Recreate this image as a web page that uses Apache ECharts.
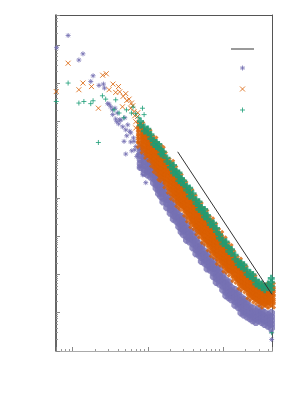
<!DOCTYPE html>
<html><head><meta charset="utf-8">
<script src="https://cdn.jsdelivr.net/npm/echarts@6/dist/echarts.min.js"></script>
<style>html,body{margin:0;padding:0;background:#fff}#c{width:300px;height:400px}</style>
</head><body><div id="c"></div>
<script>
// axis ranges (log axes)
const xRange = [0.6, 450];
const yRange = [1e-9, 0.6];
const minorMantissas = [2, 3, 4, 5, 6, 7, 8, 9];
const seriesNames = ['guide', 'set A', 'set B', 'set C'];

// power-law guide line
const fitLine = [[25, 1.6e-4], [450, 3e-8]];

// sparse points
const purpleSparse = [[0.87,0.175],[0.61,0.084],[1.37,0.058],[1.21,0.04],[1.87,0.0155],[1.74,0.011],[2.24,8.7e-3],[2.57,9.4e-3],[2.65,7.4e-3],[3.05,2.8e-3],[3.38,2e-3],[3.66,2.2e-3],[3.94,1.65e-3],[3.74,1.15e-3],[4.23,1.1e-3],[5.09,6e-4],[5.75,5.5e-4],[4.83,3e-4],[6.45,3.7e-4],[6.92,2.2e-4],[5.09,1.4e-4],[8.07,2e-4],[3.21,2.4e-3],[4.37,1.07e-3],[5.93,5e-4],[5.41,8.1e-4],[6.56,3e-4],[7.66,2.7e-4],[7.36,1.34e-4],[2.93,2.9e-3],[3.41,1.5e-3],[4.1,8.6e-4],[4.64,7.2e-4],[5.25,4.2e-4],[5.93,2.9e-4],[6.71,1.8e-4],[7.13,1.2e-4],[6.12,1.7e-4],[7.82,6.2e-5],[8.58,4e-5],[9.4,2.5e-5],[4.94,1.24e-3],[3.86,9.8e-4],[440,3.2e-9],[445,2e-9]];
const orangeSparse = [[0.87,0.033],[0.605,6e-3],[1.37,0.01],[1.21,6.7e-3],[1.78,8.1e-3],[2.51,0.016],[2.8,0.0175],[3.44,9.4e-3],[4.07,8.1e-3],[3.05,6.7e-3],[3.74,5.7e-3],[2.2,2.2e-3],[5.09,5.3e-3],[5.63,3.8e-3],[4.6,2.4e-3],[5.93,2.2e-3],[6.56,1.8e-3],[7.29,1.34e-3],[6.92,6.7e-4],[6.06,3e-3],[4.69,4.5e-3],[4.23,5.9e-3],[5.25,3.5e-3],[6.31,2.55e-3],[6.71,1.4e-3],[7.36,1.68e-3],[6.92,9.8e-4]];
const greenSparse = [[0.87,0.01],[0.605,3.3e-3],[1.21,3e-3],[1.41,3.3e-3],[1.74,2.9e-3],[1.87,3.45e-3],[2.49,4.65e-3],[2.75,3.8e-3],[2.2,2.8e-4],[3.74,3.65e-3],[3.55,2e-3],[4.14,1.65e-3],[8.5,2.2e-3],[8.93,1.5e-3],[6.92,1.58e-3],[5.2,2e-3],[6.06,1.65e-3],[6.37,2.36e-3],[4.79,1.24e-3],[7.59,1.24e-3],[445,3e-9]];

// dense bands: [x, [y values read at that x]]
const purpleBand = [
[8,[2e-4,1.6e-4,1.3e-4,1e-4,7.9e-5,6.3e-5]],
[9,[1.4e-4,1.1e-4,8.9e-5,7.1e-5,5.6e-5,4.5e-5]],
[10,[1e-4,7.9e-5,6.3e-5,5e-5,4e-5]],
[11,[8.9e-5,7.1e-5,5.6e-5,4.5e-5,3.5e-5]],
[12,[6.3e-5,5e-5,4e-5,3.2e-5,2.5e-5]],
[13,[4.5e-5,3.5e-5,2.8e-5,2.2e-5,1.8e-5]],
[14,[3.2e-5,2.5e-5,2e-5,1.6e-5,1.3e-5]],
[15,[2.8e-5,2.2e-5,1.8e-5,1.4e-5,1.1e-5]],
[16,[2e-5,1.6e-5,1.3e-5,1e-5,7.9e-6]],
[18,[1.4e-5,1.1e-5,8.9e-6,7.1e-6,5.6e-6]],
[20,[1e-5,7.9e-6,6.3e-6,5e-6,4e-6]],
[22,[7.1e-6,5.6e-6,4.5e-6,3.5e-6,2.8e-6]],
[24,[5e-6,4e-6,3.2e-6,2.5e-6]],
[26,[3.5e-6,2.8e-6,2.2e-6,1.8e-6]],
[28,[3.2e-6,2.5e-6,2e-6,1.6e-6,1.3e-6]],
[30,[2.8e-6,2.2e-6,1.8e-6,1.4e-6,1.1e-6]],
[33,[2e-6,1.6e-6,1.3e-6,1e-6,7.9e-7]],
[36,[1.4e-6,1.1e-6,8.9e-7,7.1e-7]],
[40,[1.3e-6,1e-6,7.9e-7,6.3e-7,5e-7]],
[44,[8.9e-7,7.1e-7,5.6e-7,4.5e-7,3.5e-7]],
[48,[6.3e-7,5e-7,4e-7,3.2e-7]],
[52,[5.6e-7,4.5e-7,3.5e-7,2.8e-7,2.2e-7]],
[57,[4e-7,3.2e-7,2.5e-7,2e-7]],
[62,[3.5e-7,2.8e-7,2.2e-7,1.8e-7,1.4e-7]],
[68,[2.5e-7,2e-7,1.6e-7,1.3e-7]],
[75,[2.2e-7,1.8e-7,1.4e-7,1.1e-7,8.9e-8]],
[82,[1.6e-7,1.3e-7,1e-7,7.9e-8,6.3e-8]],
[90,[1.4e-7,1.1e-7,8.9e-8,7.1e-8,5.6e-8]],
[100,[1e-7,7.9e-8,6.3e-8,5e-8,4e-8]],
[110,[7.1e-8,5.6e-8,4.5e-8,3.5e-8,2.8e-8]],
[120,[6.3e-8,5e-8,4e-8,3.2e-8,2.5e-8]],
[130,[4.5e-8,3.5e-8,2.8e-8,2.2e-8]],
[145,[4e-8,3.2e-8,2.5e-8,2e-8,1.6e-8]],
[160,[3.5e-8,2.8e-8,2.2e-8,1.8e-8,1.4e-8]],
[175,[2.5e-8,2e-8,1.6e-8,1.3e-8,1e-8]],
[190,[2.2e-8,1.8e-8,1.4e-8,1.1e-8,8.9e-9]],
[210,[2e-8,1.6e-8,1.3e-8,1e-8,7.9e-9]],
[230,[1.4e-8,1.1e-8,8.9e-9,7.1e-9]],
[250,[1.3e-8,1e-8,7.9e-9,6.3e-9]],
[275,[1.1e-8,8.9e-9,7.1e-9,5.6e-9]],
[300,[1.3e-8,1e-8,7.9e-9,6.3e-9]],
[330,[1.1e-8,8.9e-9,7.1e-9,5.6e-9]],
[360,[1e-8,7.9e-9,6.3e-9,5e-9]],
[400,[8.9e-9,7.1e-9,5.6e-9,4.5e-9]],
[440,[1e-8,7.9e-9,6.3e-9,5e-9,4e-9]]
];
const orangeBand = [
[8,[7.9e-4,6.3e-4,5e-4,4e-4,3.2e-4,2.5e-4]],
[9,[5.6e-4,4.5e-4,3.5e-4,2.8e-4,2.2e-4,1.8e-4]],
[10,[5e-4,4e-4,3.2e-4,2.5e-4,2e-4,1.6e-4,1.3e-4]],
[11,[3.5e-4,2.8e-4,2.2e-4,1.8e-4,1.4e-4,1.1e-4]],
[12,[3.2e-4,2.5e-4,2e-4,1.6e-4,1.3e-4,1e-4,7.9e-5]],
[13,[2.2e-4,1.8e-4,1.4e-4,1.1e-4,8.9e-5,7.1e-5,5.6e-5]],
[14,[2e-4,1.6e-4,1.3e-4,1e-4,7.9e-5,6.3e-5,5e-5]],
[15,[1.8e-4,1.4e-4,1.1e-4,8.9e-5,7.1e-5,5.6e-5,4.5e-5,3.5e-5]],
[16,[1.3e-4,1e-4,7.9e-5,6.3e-5,5e-5,4e-5,3.2e-5]],
[18,[8.9e-5,7.1e-5,5.6e-5,4.5e-5,3.5e-5,2.8e-5,2.2e-5]],
[20,[7.9e-5,6.3e-5,5e-5,4e-5,3.2e-5,2.5e-5,2e-5,1.6e-5]],
[22,[5.6e-5,4.5e-5,3.5e-5,2.8e-5,2.2e-5,1.8e-5,1.4e-5,1.1e-5]],
[24,[4e-5,3.2e-5,2.5e-5,2e-5,1.6e-5,1.3e-5,1e-5]],
[26,[3.5e-5,2.8e-5,2.2e-5,1.8e-5,1.4e-5,1.1e-5,8.9e-6,7.1e-6]],
[28,[2.5e-5,2e-5,1.6e-5,1.3e-5,1e-5,7.9e-6,6.3e-6]],
[30,[2.2e-5,1.8e-5,1.4e-5,1.1e-5,8.9e-6,7.1e-6,5.6e-6]],
[33,[1.6e-5,1.3e-5,1e-5,7.9e-6,6.3e-6,5e-6,4e-6]],
[36,[1.4e-5,1.1e-5,8.9e-6,7.1e-6,5.6e-6,4.5e-6,3.5e-6,2.8e-6]],
[40,[1e-5,7.9e-6,6.3e-6,5e-6,4e-6,3.2e-6,2.5e-6,2e-6]],
[44,[7.1e-6,5.6e-6,4.5e-6,3.5e-6,2.8e-6,2.2e-6,1.8e-6]],
[48,[6.3e-6,5e-6,4e-6,3.2e-6,2.5e-6,2e-6,1.6e-6,1.3e-6]],
[52,[4.5e-6,3.5e-6,2.8e-6,2.2e-6,1.8e-6,1.4e-6,1.1e-6]],
[57,[4e-6,3.2e-6,2.5e-6,2e-6,1.6e-6,1.3e-6,1e-6,7.9e-7]],
[62,[2.8e-6,2.2e-6,1.8e-6,1.4e-6,1.1e-6,8.9e-7,7.1e-7]],
[68,[2.5e-6,2e-6,1.6e-6,1.3e-6,1e-6,7.9e-7,6.3e-7,5e-7]],
[75,[1.8e-6,1.4e-6,1.1e-6,8.9e-7,7.1e-7,5.6e-7,4.5e-7,3.5e-7]],
[82,[1.3e-6,1e-6,7.9e-7,6.3e-7,5e-7,4e-7,3.2e-7]],
[90,[1.1e-6,8.9e-7,7.1e-7,5.6e-7,4.5e-7,3.5e-7,2.8e-7,2.2e-7]],
[100,[7.9e-7,6.3e-7,5e-7,4e-7,3.2e-7,2.5e-7,2e-7]],
[110,[5.6e-7,4.5e-7,3.5e-7,2.8e-7,2.2e-7,1.8e-7,1.4e-7]],
[120,[5e-7,4e-7,3.2e-7,2.5e-7,2e-7,1.6e-7,1.3e-7]],
[130,[3.5e-7,2.8e-7,2.2e-7,1.8e-7,1.4e-7,1.1e-7]],
[145,[2.5e-7,2e-7,1.6e-7,1.3e-7,1e-7,7.9e-8]],
[160,[2.2e-7,1.8e-7,1.4e-7,1.1e-7,8.9e-8,7.1e-8]],
[175,[1.6e-7,1.3e-7,1e-7,7.9e-8,6.3e-8,5e-8]],
[190,[1.4e-7,1.1e-7,8.9e-8,7.1e-8,5.6e-8,4.5e-8]],
[210,[1e-7,7.9e-8,6.3e-8,5e-8,4e-8]],
[230,[8.9e-8,7.1e-8,5.6e-8,4.5e-8,3.5e-8,2.8e-8]],
[250,[7.9e-8,6.3e-8,5e-8,4e-8,3.2e-8,2.5e-8]],
[275,[5.6e-8,4.5e-8,3.5e-8,2.8e-8,2.2e-8]],
[300,[5e-8,4e-8,3.2e-8,2.5e-8,2e-8]],
[330,[4.5e-8,3.5e-8,2.8e-8,2.2e-8,1.8e-8]],
[360,[5e-8,4e-8,3.2e-8,2.5e-8,2e-8,1.6e-8]],
[400,[4.5e-8,3.5e-8,2.8e-8,2.2e-8,1.8e-8]],
[440,[5e-8,4e-8,3.2e-8,2.5e-8,2e-8,1.6e-8]]
];
const greenBand = [
[8,[1e-3,7.9e-4]],
[9,[7.1e-4,5.6e-4]],
[10,[6.3e-4,5e-4]],
[11,[4.5e-4,3.5e-4]],
[12,[3.2e-4,2.5e-4]],
[13,[2.8e-4,2.2e-4]],
[14,[2.5e-4,2e-4]],
[15,[1.8e-4,1.4e-4]],
[16,[1.6e-4,1.3e-4]],
[18,[1.1e-4,8.9e-5]],
[20,[7.9e-5,6.3e-5]],
[22,[7.1e-5,5.6e-5,4.5e-5]],
[24,[5e-5,4e-5]],
[26,[4.5e-5,3.5e-5,2.8e-5]],
[28,[3.2e-5,2.5e-5]],
[30,[2.8e-5,2.2e-5]],
[33,[2e-5,1.6e-5]],
[36,[1.8e-5,1.4e-5,1.1e-5]],
[40,[1.3e-5,1e-5]],
[44,[8.9e-6,7.1e-6]],
[48,[7.9e-6,6.3e-6,5e-6]],
[52,[5.6e-6,4.5e-6]],
[57,[5e-6,4e-6,3.2e-6]],
[62,[3.5e-6,2.8e-6]],
[68,[2.5e-6,2e-6]],
[75,[2.2e-6,1.8e-6]],
[82,[1.6e-6,1.3e-6]],
[90,[1.1e-6,8.9e-7]],
[100,[7.9e-7,6.3e-7]],
[110,[7.1e-7,5.6e-7]],
[120,[5e-7,4e-7]],
[130,[4.5e-7,3.5e-7]],
[145,[3.2e-7,2.5e-7]],
[160,[2.2e-7,1.8e-7]],
[175,[2e-7,1.6e-7]],
[190,[1.8e-7,1.4e-7]],
[210,[1.3e-7,1e-7]],
[230,[1.1e-7,8.9e-8]],
[250,[1e-7,7.9e-8]],
[275,[7.1e-8,5.6e-8]],
[300,[6.3e-8,5e-8]],
[330,[5.6e-8,4.5e-8]],
[360,[5e-8,4e-8]],
[400,[5.6e-8,4.5e-8]],
[440,[7.9e-8,6.3e-8,5e-8,4e-8]]
];

const colors = { purple: '#7570b3', orange: '#d95f02', green: '#1b9e77', guide: '#333333', legendLine: '#9a9a9a' };
const symbols = {
  star: 'path://M0,5L10,5M5,0L5,10M1.5,1.5L8.5,8.5M8.5,1.5L1.5,8.5',
  cross: 'path://M0,0L10,10M10,0L0,10',
  plus: 'path://M0,5L10,5M5,0L5,10',
  bar: 'path://M0,0L23,0L23,2L0,2Z'
};

function flatten(cols) {
  const out = [];
  cols.forEach(function (c) { c[1].forEach(function (y) { out.push([c[0], y]); }); });
  return out;
}
function minorTicks(range) {
  const out = [];
  const k0 = Math.floor(Math.log10(range[0])), k1 = Math.ceil(Math.log10(range[1]));
  for (let k = k0; k <= k1; k++) {
    minorMantissas.forEach(function (m) {
      const v = Number((m * Math.pow(10, k)).toPrecision(3));
      if (v > range[0] * 1.001 && v < range[1] * 0.999) out.push(v);
    });
  }
  return out;
}

const chart = echarts.init(document.getElementById('c'), null, { renderer: 'canvas' });
const base = { type: 'log', logBase: 10, axisLabel: { show: false }, splitLine: { show: false },
  minorTick: { show: false }, minorSplitLine: { show: false }, silent: true };

function scatter(name, data, color, symbol, size, width) {
  return { name: name, type: 'scatter', data: data, symbol: symbol, symbolSize: size,
    itemStyle: { color: color, borderColor: color, borderWidth: width },
    emphasis: { disabled: true }, silent: true, xAxisIndex: 0, yAxisIndex: 0 };
}
function legendItem(name, color) {
  return { name: name, itemStyle: { color: color, borderColor: color, borderWidth: 1 } };
}

chart.setOption({
  animation: false,
  backgroundColor: '#ffffff',
  grid: { left: 56, top: 15, right: 28, bottom: 49, containLabel: false },
  legend: {
    data: [
      { name: seriesNames[0], icon: symbols.bar, itemStyle: { color: colors.legendLine, borderWidth: 0 } },
      legendItem(seriesNames[1], colors.purple),
      legendItem(seriesNames[2], colors.orange),
      legendItem(seriesNames[3], colors.green)
    ],
    orient: 'vertical', left: 231, top: 48, padding: 0,
    itemWidth: 23, itemHeight: 5, itemGap: 15,
    formatter: function () { return ''; },
    textStyle: { fontSize: 4, lineHeight: 5 },
    selectedMode: false
  },
  xAxis: [
    Object.assign({}, base, { position: 'bottom', min: xRange[0], max: xRange[1],
      axisLine: { show: true, onZero: false, lineStyle: { color: '#aaaaaa', width: 1 } },
      axisTick: { show: true, inside: true, length: 4, lineStyle: { color: '#888888' } } }),
    Object.assign({}, base, { position: 'bottom', min: xRange[0], max: xRange[1],
      axisLine: { show: false },
      axisTick: { show: true, inside: true, length: 2, customValues: minorTicks(xRange), lineStyle: { color: '#999999' } } }),
    Object.assign({}, base, { position: 'top', min: xRange[0], max: xRange[1],
      axisLine: { show: true, onZero: false, lineStyle: { color: '#555555', width: 1 } },
      axisTick: { show: false } })
  ],
  yAxis: [
    Object.assign({}, base, { position: 'left', min: yRange[0], max: yRange[1],
      axisLine: { show: true, onZero: false, lineStyle: { color: '#333333', width: 1.5 } },
      axisTick: { show: true, inside: true, length: 4, lineStyle: { color: '#888888' } } }),
    Object.assign({}, base, { position: 'left', min: yRange[0], max: yRange[1],
      axisLine: { show: false },
      axisTick: { show: true, inside: true, length: 2, customValues: minorTicks(yRange), lineStyle: { color: '#999999' } } }),
    Object.assign({}, base, { position: 'right', min: yRange[0], max: yRange[1],
      axisLine: { show: true, onZero: false, lineStyle: { color: '#555555', width: 1 } },
      axisTick: { show: false } })
  ],
  series: [
    scatter(seriesNames[1], purpleSparse, colors.purple, symbols.star, 5, 1),
    scatter(seriesNames[2], orangeSparse, colors.orange, symbols.cross, 5, 1),
    scatter(seriesNames[3], greenSparse, colors.green, symbols.plus, 5, 1),
    scatter(seriesNames[1], flatten(purpleBand), colors.purple, symbols.star, 7.5, 3.2),
    scatter(seriesNames[2], flatten(orangeBand), colors.orange, symbols.cross, 7.5, 3),
    scatter(seriesNames[3], flatten(greenBand), colors.green, symbols.plus, 7, 2.6),
    { name: seriesNames[0], type: 'line', data: fitLine, symbol: 'none', silent: true,
      lineStyle: { color: colors.guide, width: 1 }, itemStyle: { color: colors.guide },
      xAxisIndex: 0, yAxisIndex: 0, z: 5 }
  ]
});
</script>
</body></html>
